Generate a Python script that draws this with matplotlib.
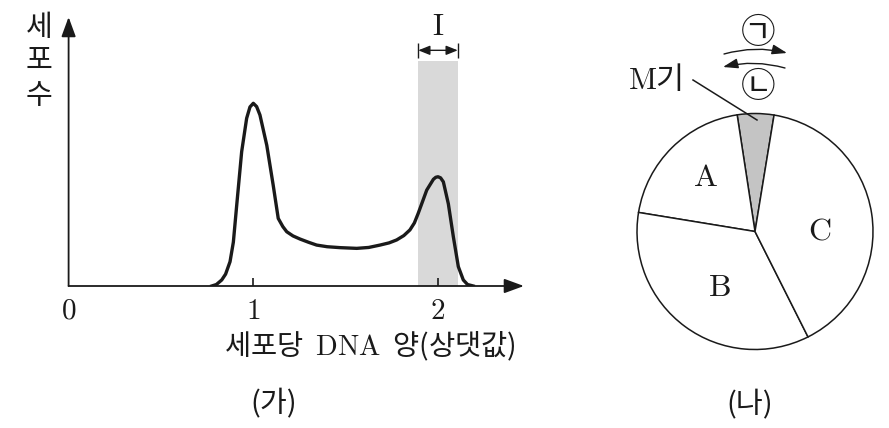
import matplotlib
matplotlib.use('Agg')
import matplotlib.pyplot as plt
from matplotlib.lines import Line2D
from matplotlib.patches import FancyArrowPatch

plt.rcParams['font.family'] = ['Noto Sans CJK KR', 'DejaVu Sans']
plt.rcParams['mathtext.fontset'] = 'cm'

ink = '#1a1a1a'

# (가) number of cells vs DNA content per cell (relative)
dna = [0.775, 0.80, 0.829, 0.85, 0.874, 0.892, 0.910, 0.937, 0.964, 0.982, 1.0,
       1.018, 1.036, 1.073, 1.108, 1.135, 1.160, 1.181, 1.215, 1.253, 1.300,
       1.343, 1.400, 1.469, 1.560, 1.625, 1.686, 1.735, 1.776, 1.815, 1.848,
       1.872, 1.893, 1.939, 1.975, 1.988, 2.0, 2.014, 2.029, 2.056, 2.083,
       2.110, 2.137, 2.16, 2.191]
cells = [0, 0.8, 3.3, 6.5, 13.3, 24, 44, 73.5, 91.8, 98, 100,
         98.2, 93.6, 77, 55, 37, 32.5, 29.7, 27.4, 25.7, 23.9,
         22.4, 21.5, 21, 20.6, 21.1, 22.4, 23.6, 25.2, 27.6, 30.7,
         34.5, 39.8, 52.5, 58.4, 59.5, 59.8, 59.2, 57, 45, 27,
         10.6, 3.3, 0.8, 0]
band = [1.893, 2.107]     # section I
band_top = 123
ticks = [0, 1, 2]

# (나) cell cycle shares
phases = ['M기', 'A', 'B', 'C']
shares = [5, 20, 35, 40]
colors = ['#c4c4c4', 'white', 'white', 'white']

W, H = 889, 428
fig = plt.figure(figsize=(W / 100, H / 100), dpi=100)


def fx(x):
    return x / W


def fy(y):
    return 1 - y / H


# ---- left panel ----
ax = fig.add_axes([68.6 / W, (H - 286) / H, 2.5 * 184.7 / W, 150 * 1.827 / H])
ax.set_xlim(0, 2.5)
ax.set_ylim(0, 150)
for s in ax.spines.values():
    s.set_visible(False)

ax.fill_between(band, 0, band_top, color='#d9d9d9', lw=0, zorder=1)
ax.plot(dna, cells, color=ink, lw=2.4, solid_joinstyle='round', zorder=3)

arrow = dict(arrowstyle='-|>,head_length=0.6,head_width=0.22', lw=1.3,
             color=ink, shrinkA=0, shrinkB=0, mutation_scale=20)
ax.annotate('', xy=(2.465, 0), xytext=(0, 0), arrowprops=arrow,
            annotation_clip=False, zorder=4)
ax.annotate('', xy=(0, 147.2), xytext=(0, 0), arrowprops=arrow,
            annotation_clip=False, zorder=4)

ax.set_xticks(ticks, [f'${t}$' for t in ticks])
ax.set_yticks([])
ax.tick_params(axis='x', direction='in', length=6, width=1.2, color=ink,
               pad=7, labelsize=21, labelcolor=ink)
ax.xaxis.get_major_ticks()[0].tick1line.set_visible(False)

# section I marker
ax.vlines(band, 125, 133, color=ink, lw=1.0, clip_on=False)
ax.annotate('', xy=(band[1], 129), xytext=(band[0], 129),
            arrowprops=dict(arrowstyle='<|-|>,head_length=0.5,head_width=0.2',
                            lw=1.0, color=ink, shrinkA=0, shrinkB=0,
                            mutation_scale=14),
            annotation_clip=False)
ax.text(sum(band) / 2, 141.8, r'$\mathrm{I}$', ha='center', va='center',
        fontsize=22, color=ink, clip_on=False)

for i, ch in enumerate('세포수'):
    fig.text(fx(39), fy(28 + 34 * i), ch, ha='center', va='center',
             fontsize=21, color=ink)
fig.text(fx(370), fy(346), r'세포당  $\mathrm{DNA}$  양(상댓값)', ha='center',
         va='center', fontsize=20.5, color=ink)
fig.text(fx(274), fy(404), '(가)', ha='center', va='center', fontsize=21,
         color=ink)

# ---- right panel ----
R = 118
ax2 = fig.add_axes([(755 - R) / W, (H - 231.5 - R) / H, 2 * R / W, 2 * R / H])
wedges, _ = ax2.pie(shares, colors=colors, startangle=80.7, counterclock=True,
                    wedgeprops=dict(edgecolor=ink, linewidth=1.1))
for w in wedges:
    w.set_clip_on(False)
ax2.set_xlim(-1, 1)
ax2.set_ylim(-1, 1)

label_pos = {'A': (-0.42, 0.46), 'B': (-0.30, -0.47), 'C': (0.55, 0.01)}
for p in phases[1:]:
    x, y = label_pos[p]
    ax2.text(x, y, rf'$\mathrm{{{p}}}$', ha='center', va='center',
             fontsize=23, color=ink)

fig.text(fx(655), fy(80), r'$\mathrm{M}$기', ha='center', va='center',
         fontsize=22, color=ink)
fig.add_artist(Line2D([fx(693), fx(757)], [fy(80), fy(120)], color=ink, lw=1.1))

head = '-|>,head_length=0.6,head_width=0.2'
fig.add_artist(FancyArrowPatch((fx(724), fy(54)), (fx(787), fy(53)),
                               transform=fig.transFigure,
                               connectionstyle='arc3,rad=-0.13',
                               arrowstyle=head, mutation_scale=15, lw=1.0,
                               color=ink, shrinkA=0, shrinkB=0))
fig.add_artist(FancyArrowPatch((fx(785), fy(68)), (fx(723), fy(67)),
                               transform=fig.transFigure,
                               connectionstyle='arc3,rad=0.13',
                               arrowstyle=head, mutation_scale=15, lw=1.0,
                               color=ink, shrinkA=0, shrinkB=0))
fig.text(fx(758), fy(34), '㉠', ha='center', va='center', fontsize=25, color=ink)
fig.text(fx(758), fy(87), '㉡', ha='center', va='center', fontsize=25, color=ink)

fig.text(fx(750), fy(405), '(나)', ha='center', va='center', fontsize=21,
         color=ink)

fig.savefig('out.png', dpi=100)
